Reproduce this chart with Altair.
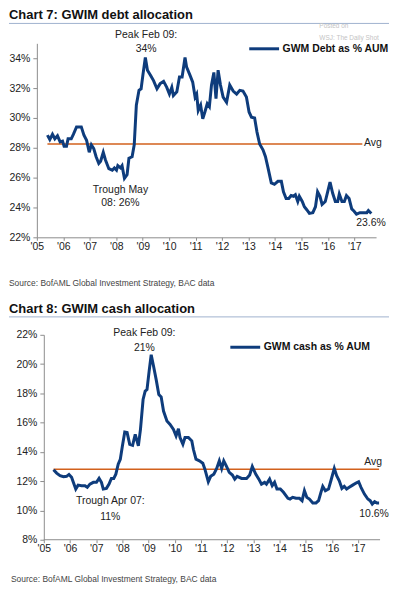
import altair as alt
import pandas as pd

# ---------------- data ----------------
debt_years = [2005.40, 2005.49, 2005.59, 2005.68, 2005.78, 2005.88, 2005.97, 2006.03, 2006.12, 2006.18,
              2006.30, 2006.38, 2006.50, 2006.68, 2006.78, 2006.88, 2006.98, 2007.06, 2007.15, 2007.24,
              2007.34, 2007.41, 2007.51, 2007.59, 2007.72, 2007.85, 2007.93, 2008.01, 2008.06, 2008.16,
              2008.22, 2008.31, 2008.41, 2008.48, 2008.60, 2008.68, 2008.76, 2008.86, 2008.94, 2009.01,
              2009.10, 2009.18, 2009.30, 2009.41, 2009.54, 2009.66, 2009.79, 2009.91, 2010.01, 2010.10,
              2010.16, 2010.29, 2010.39, 2010.49, 2010.60, 2010.66, 2010.79, 2010.89, 2010.98, 2011.04,
              2011.10, 2011.19, 2011.27, 2011.35, 2011.44, 2011.52, 2011.60, 2011.69, 2011.77, 2011.85,
              2011.94, 2012.04, 2012.17, 2012.29, 2012.42, 2012.55, 2012.67, 2012.79, 2012.92, 2013.02,
              2013.11, 2013.23, 2013.32, 2013.42, 2013.55, 2013.64, 2013.73, 2013.86, 2013.98, 2014.11,
              2014.24, 2014.32, 2014.42, 2014.52, 2014.61, 2014.70, 2014.77, 2014.86, 2014.92, 2015.03,
              2015.11, 2015.20, 2015.30, 2015.43, 2015.53, 2015.61, 2015.70, 2015.78, 2015.90, 2015.99,
              2016.08, 2016.18, 2016.28, 2016.37, 2016.43, 2016.53, 2016.62, 2016.70, 2016.80, 2016.90,
              2016.99, 2017.08, 2017.21, 2017.34, 2017.47, 2017.53, 2017.64]
debt_values = [28.85, 28.55, 28.9, 28.6, 28.8, 28.4, 28.45, 28.1, 28.1, 28.6,
               28.6, 28.9, 29.4, 29.4, 28.85, 28.5, 27.7, 28.2, 27.95, 27.4,
               26.95, 27.1, 27.7, 27.2, 26.6, 26.5, 26.65, 26.5, 26.8, 26.65,
               26.8, 25.95, 26.2, 27.3, 27.4, 28.2, 30.85, 31.85, 31.95, 32.9,
               34.05, 33.2, 32.85, 32.5, 31.95, 32.3, 32.45, 32.05, 31.6, 32.05,
               31.5, 31.75, 32.75, 32.75, 34.05, 33.4, 32.85, 32.4, 31.4, 31.6,
               30.5, 30.85, 29.95, 30.4, 30.95, 30.75, 32.2, 33.05, 31.3, 33.2,
               32.2, 31.4, 31.05, 32.2, 31.8, 31.6, 31.85, 31.8, 31.4, 30.4,
               30.05, 30.0, 29.05, 28.25, 27.85, 27.4, 26.7, 25.65, 25.55, 25.75,
               25.75, 25.05, 24.6, 24.6, 24.8, 24.75, 24.85, 24.4, 24.75, 24.4,
               24.05, 23.85, 23.6, 23.65, 24.05, 25.05, 24.75, 24.2, 24.4, 25.05,
               25.7, 24.95, 24.4, 24.4, 24.9, 24.4, 24.4, 24.8, 24.6, 23.9,
               23.75, 23.55, 23.65, 23.65, 23.65, 23.8, 23.6]

cash_years = [2005.37, 2005.49, 2005.62, 2005.75, 2005.87, 2005.96, 2006.06, 2006.12, 2006.22, 2006.31,
              2006.44, 2006.57, 2006.66, 2006.76, 2006.89, 2007.01, 2007.11, 2007.20, 2007.27, 2007.39,
              2007.49, 2007.58, 2007.67, 2007.75, 2007.84, 2007.92, 2008.00, 2008.09, 2008.18, 2008.28,
              2008.39, 2008.49, 2008.61, 2008.69, 2008.79, 2008.87, 2008.94, 2009.02, 2009.10, 2009.19,
              2009.29, 2009.39, 2009.48, 2009.57, 2009.70, 2009.82, 2009.95, 2010.05, 2010.14, 2010.20,
              2010.31, 2010.39, 2010.52, 2010.65, 2010.71, 2010.81, 2010.94, 2011.07, 2011.15, 2011.28,
              2011.37, 2011.49, 2011.60, 2011.70, 2011.79, 2011.87, 2011.98, 2012.08, 2012.20, 2012.29,
              2012.38, 2012.55, 2012.74, 2012.86, 2012.96, 2013.09, 2013.21, 2013.31, 2013.43, 2013.50,
              2013.62, 2013.72, 2013.81, 2013.90, 2014.03, 2014.15, 2014.32, 2014.40, 2014.50, 2014.63,
              2014.76, 2014.86, 2014.95, 2015.04, 2015.14, 2015.27, 2015.39, 2015.49, 2015.58, 2015.65,
              2015.75, 2015.87, 2015.96, 2016.09, 2016.18, 2016.28, 2016.38, 2016.47, 2016.56, 2016.66,
              2016.79, 2016.92, 2017.02, 2017.11, 2017.24, 2017.37, 2017.46, 2017.54, 2017.63, 2017.72,
              2017.80]
cash_values = [12.78, 12.55, 12.37, 12.3, 12.33, 12.46, 12.26, 11.96, 11.46, 11.73,
               11.69, 11.69, 11.58, 11.8, 11.92, 11.92, 12.19, 11.92, 11.46, 11.51,
               11.8, 12.19, 12.19, 12.48, 13.16, 13.5, 14.4, 15.36, 15.32, 14.52,
               14.45, 15.2, 14.41, 15.54, 17.58, 18.15, 18.26, 19.5, 20.64, 19.85,
               18.94, 17.92, 17.76, 16.79, 16.11, 15.88, 15.54, 15.09, 15.58, 14.98,
               14.52, 14.98, 14.98, 14.75, 14.18, 13.5, 13.39, 13.23, 12.82, 11.96,
               12.33, 12.48, 12.87, 13.39, 12.87, 13.39, 13.0, 12.6, 12.42, 12.14,
               12.33, 12.19, 12.19, 12.42, 13.0, 12.48, 12.14, 11.8, 11.92, 11.8,
               12.14, 11.69, 11.92, 11.46, 11.46, 11.24, 10.83, 10.78, 10.9, 10.83,
               10.83, 10.67, 11.35, 10.9, 10.78, 10.51, 10.51, 10.67, 11.24, 11.65,
               11.35, 11.46, 12.03, 12.87, 12.37, 12.03, 11.51, 11.65, 11.46, 11.58,
               11.73, 11.87, 11.96, 11.58, 11.12, 10.78, 10.67, 10.44, 10.6, 10.51,
               10.51]

debt_avg = 28.25
cash_avg = 12.82
year_ticks = list(range(2005, 2018))
debt_ticks = [22, 24, 26, 28, 30, 32, 34]
cash_ticks = [8, 10, 12, 14, 16, 18, 20, 22]

debt_note_text = ["Peak Feb 09:", "34%", "Trough May", "08: 26%", "23.6%", "Avg"]
debt_note_x = [2009.13, 2009.13, 2008.16, 2008.16, 2017.63, 2017.70]
debt_note_y = [35.53, 34.60, 25.20, 24.27, 22.93, 28.30]

cash_note_text = ["Peak Feb 09:", "21%", "Trough Apr 07:", "11%", "10.6%", "Avg"]
cash_note_x = [2008.84, 2008.84, 2007.54, 2007.54, 2017.61, 2017.57]
cash_note_y = [22.14, 21.12, 10.65, 9.56, 9.76, 13.30]

NAVY = "#0e3c7c"
ORANGE = "#d2601c"
AXIS = "#8c8c8c"
FONT = "Liberation Sans, Arial, sans-serif"


def panel(years, values, series, avg, avg_x, xdom, ydom, yticks, width, height,
          title, notes_t, notes_x, notes_y, legend_x, legend_y, y_offset,
          title_y, source_y, source_x, axis_rule):
    df = pd.DataFrame({"year": years, "value": values, "series": series})
    xscale = alt.Scale(domain=xdom, nice=False, zero=False)
    yscale = alt.Scale(domain=ydom, nice=False, zero=False)
    xaxis = alt.Axis(values=year_ticks, labelExpr="\"'\" + slice(toString(datum.value), 2)",
                     grid=False, domain=not axis_rule, domainColor=AXIS, tickColor=AXIS,
                     tickSize=3, labelPadding=1, labelFont=FONT, labelFontSize=10.5,
                     labelColor="#222", labelOverlap=False, labelFlush=False)
    yaxis = alt.Axis(values=yticks, labelExpr="datum.value + '%'", grid=False,
                     domainColor=AXIS, tickColor=AXIS, tickSize=4, labelPadding=3,
                     labelFont=FONT, labelFontSize=10.5, labelColor="#222",
                     labelOverlap=False, labelFlush=False, offset=y_offset)

    def X(field):
        return alt.X(field, scale=xscale, axis=xaxis, title=None)

    def Y(field):
        return alt.Y(field, scale=yscale, axis=yaxis, title=None)

    line = alt.Chart(df).mark_line(strokeWidth=3, color=NAVY).encode(
        x=X("year:Q"),
        y=Y("value:Q"),
        color=alt.Color("series:N", scale=alt.Scale(range=[NAVY]),
                        legend=alt.Legend(title=None, orient="none", legendX=legend_x,
                                          legendY=legend_y, symbolType="stroke",
                                          symbolStrokeWidth=3, symbolSize=900,
                                          labelFont=FONT, labelFontSize=10.5,
                                          labelFontWeight="bold", labelColor="#111",
                                          labelOffset=2, padding=0)),
    )

    avg_df = pd.DataFrame({"x0": [avg_x[0]], "x1": [avg_x[1]], "avg": [avg]})
    avg_rule = alt.Chart(avg_df).mark_rule(color=ORANGE, strokeWidth=1.6).encode(
        x=X("x0:Q"), x2="x1:Q", y=Y("avg:Q"))

    notes_df = pd.DataFrame({"t": notes_t, "x": notes_x, "y": notes_y})
    notes = alt.Chart(notes_df).mark_text(font=FONT, fontSize=10.5, color="#222").encode(
        x=X("x:Q"), y=Y("y:Q"), text="t:N")

    title_df = pd.DataFrame({"t": [title]})
    title_mark = alt.Chart(title_df).mark_text(
        font=FONT, fontSize=13, fontWeight="bold", color="#111", align="left"
    ).encode(x=alt.value(-28), y=alt.value(title_y), text="t:N")

    sep_df = pd.DataFrame({"k": [0]})
    sep = alt.Chart(sep_df).mark_rule(color="#9fb2cf", strokeWidth=1).encode(
        x=alt.value(-28), x2=alt.value(354), y=alt.value(title_y + 8))

    src_df = pd.DataFrame({"t": ["Source: BofAML Global Investment Strategy, BAC data"]})
    src = alt.Chart(src_df).mark_text(
        font=FONT, fontSize=8.5, color="#444", align="left"
    ).encode(x=alt.value(source_x), y=alt.value(source_y), text="t:N")

    layers = [sep, title_mark, avg_rule, line, notes, src]
    if axis_rule:
        ax_df = pd.DataFrame({"a": [2005], "b": [xdom[1]], "c": [ydom[0]]})
        layers.append(alt.Chart(ax_df).mark_rule(color=AXIS, strokeWidth=1).encode(
            x=X("a:Q"), x2="b:Q", y=Y("c:Q")))
    return alt.layer(*layers).properties(width=width, height=height)


debt = panel(debt_years, debt_values, "GWM Debt as % AUM", debt_avg, [2005.40, 2017.30],
             [2005, 2017.82], [22, 35], debt_ticks, 341, 195,
             "Chart 7: GWIM debt allocation", debt_note_text, debt_note_x, debt_note_y,
             212, -11, 0, -28, 241, -28, False)

wm_df = pd.DataFrame({"t": ["Posted on", "WSJ: The Daily Shot"], "px": [284, 284], "py": [-17, -5]})
watermark = alt.Chart(wm_df).mark_text(font=FONT, fontSize=6.5, color="#c4c4c4",
                                       align="left").encode(
    x=alt.X("px:Q", scale=None, title=None), y=alt.Y("py:Q", scale=None, title=None), text="t:N")
debt = alt.layer(debt, watermark)

cash = panel(cash_years, cash_values, "GWM cash as % AUM", cash_avg, [2005.37, 2017.80],
             [2004.734, 2017.837], [8, 22], cash_ticks, 345, 206,
             "Chart 8: GWIM cash allocation", cash_note_text, cash_note_x, cash_note_y,
             193, -4, -7, -26, 245, -26, True)

chart = (alt.vconcat(debt, cash, spacing=15)
         .resolve_scale(color="independent")
         .properties(padding=0)
         .configure_view(stroke=None))

chart.save("out.html", embed_options={"renderer": "svg", "actions": False})
